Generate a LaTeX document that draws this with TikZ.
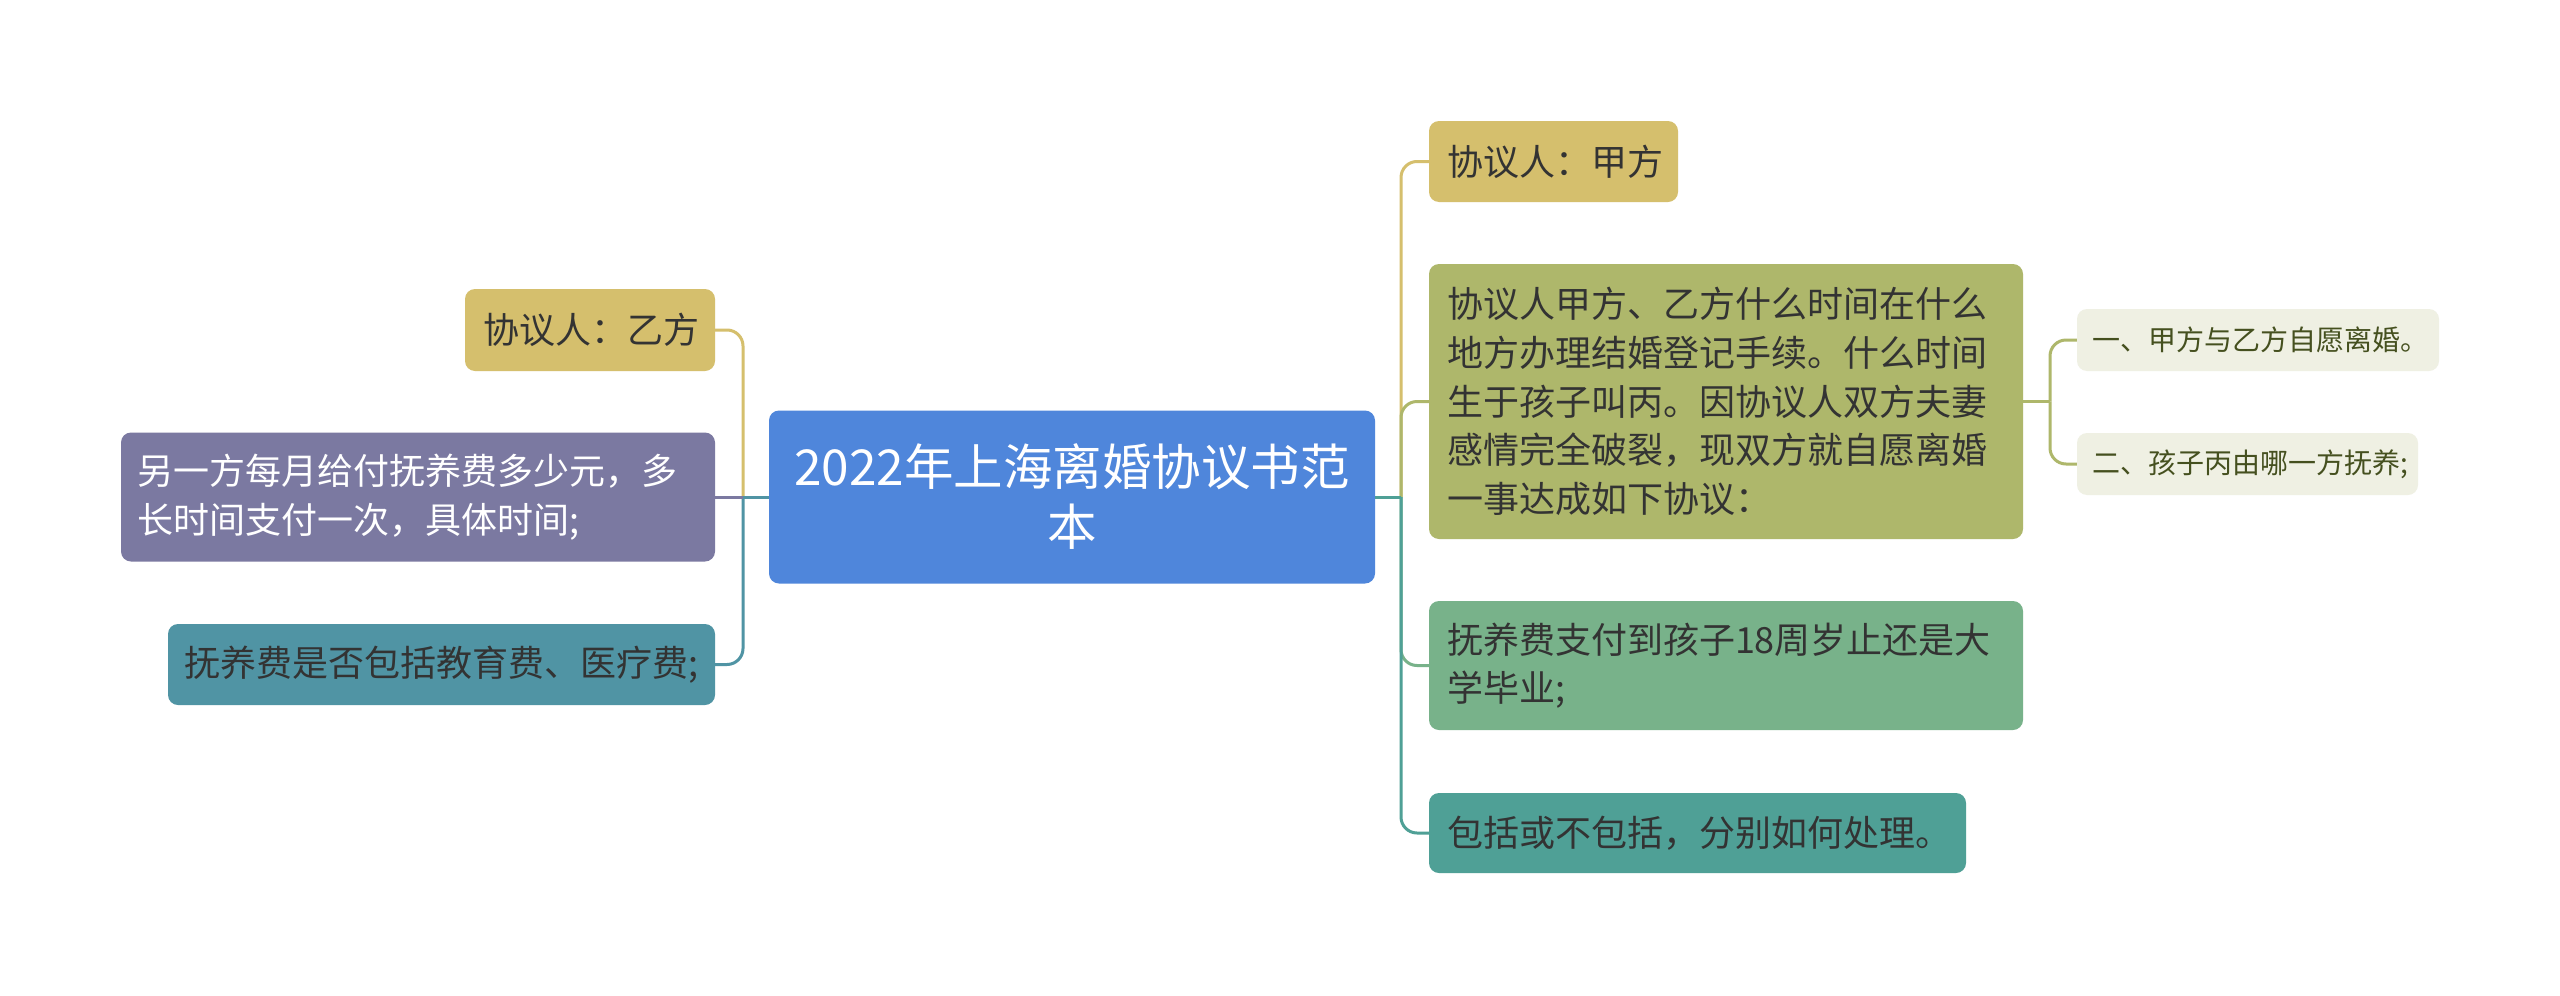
\documentclass[tikz,border=0pt]{standalone}
\usepackage{fontspec}
\setmainfont{Noto Sans CJK SC}
\definecolor{cRoot}{HTML}{4F86DB}
\definecolor{cYel}{HTML}{D5BF6D}
\definecolor{cOli}{HTML}{AEB76B}
\definecolor{cGrn}{HTML}{78B28A}
\definecolor{cTea}{HTML}{4FA096}
\definecolor{cPur}{HTML}{7B79A1}
\definecolor{cTbl}{HTML}{5094A4}
\definecolor{cSub}{HTML}{EFF0E3}
\definecolor{cTxt}{HTML}{333333}
\definecolor{cSubTxt}{HTML}{45501F}
\begin{document}
\begin{tikzpicture}[x=1pt,y=-1pt,
  box/.style={rectangle,rounded corners=10pt,inner ysep=0pt,inner xsep=18pt,align=left,
    font=\fontsize{36pt}{48.6pt}\selectfont,text=cTxt},
  subbox/.style={rectangle,rounded corners=10pt,inner ysep=0pt,inner xsep=15pt,align=left,
    font=\fontsize{28pt}{36pt}\selectfont,text=cSubTxt,fill=cSub},
  conn/.style={line width=3pt},
  rc/.style={rounded corners=16pt}]
\useasboundingbox (0,0) rectangle (2560,996);
\fill[white] (0,0) rectangle (2560,996);

% root
\node[box,fill=cRoot,text=white,align=center,inner xsep=20pt,text width=566pt,minimum height=173pt,
  font=\fontsize{49.5pt}{60pt}\selectfont] (root) at (1072,497) {2022年上海离婚协议书范\\本};

% right children
\node[box,fill=cYel,text width=213pt,minimum height=81pt] (r1) at (1553.5,161.5) {协议人：甲方};
\node[box,fill=cOli,text width=558pt,minimum height=275pt] (r2) at (1726,401.5)
  {协议人甲方、乙方什么时间在什么\\地方办理结婚登记手续。什么时间\\生于孩子叫丙。因协议人双方夫妻\\感情完全破裂，现双方就自愿离婚\\一事达成如下协议：};
\node[box,fill=cGrn,text width=558pt,minimum height=129pt] (r3) at (1726,665.5)
  {抚养费支付到孩子18周岁止还是大\\学毕业;};
\node[box,fill=cTea,text width=501pt,minimum height=80pt] (r4) at (1697.5,833) {包括或不包括，分别如何处理。};

% sub children
\node[subbox,text width=332pt,minimum height=62pt] (s1) at (2258,340) {一、甲方与乙方自愿离婚。};
\node[subbox,text width=311pt,minimum height=62pt] (s2) at (2247.5,464) {二、孩子丙由哪一方抚养;};

% left children
\node[box,fill=cYel,text width=214pt,minimum height=82pt] (l1) at (590,330) {协议人：乙方};
\node[box,fill=cPur,text=white,inner xsep=16pt,text width=562pt,minimum height=129pt] (l2) at (418,497)
  {另一方每月给付抚养费多少元，多\\长时间支付一次，具体时间;};
\node[box,fill=cTbl,inner xsep=16pt,text width=515pt,minimum height=81pt] (l3) at (441.5,664.5)
  {抚养费是否包括教育费、医疗费;};

% junctions
\coordinate (jr) at (1401,497);
\coordinate (jl) at (743,497);
\coordinate (js) at (2050,401.5);

% right connectors
\draw[conn,cYel,rc] (jr) |- (r1.west);
\draw[conn,cOli,rc] (jr) |- (r2.west);
\draw[conn,cGrn,rc] (jr) |- (r3.west);
\draw[conn,cTea,rc] (jr) |- (r4.west);
\draw[conn,cTea] (root.east) -- (jr);

% left connectors
\draw[conn,cYel,rc] (jl) |- (l1.east);
\draw[conn,cTbl,rc] (jl) |- (l3.east);
\draw[conn,cPur] (jl) -- (l2.east);
\draw[conn,cTbl] (root.west) -- (jl);

% sub connectors
\draw[conn,cOli,rc] (js) |- (s1.west);
\draw[conn,cOli,rc] (js) |- (s2.west);
\draw[conn,cOli] (r2.east) -- (js);
\end{tikzpicture}
\end{document}
